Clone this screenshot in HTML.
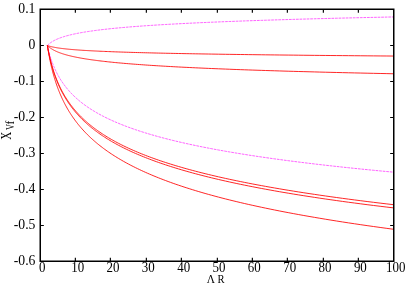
<!DOCTYPE html>
<html><head><meta charset="utf-8"><style>html,body{margin:0;padding:0;background:#fff;}svg{display:block;will-change:transform;}</style></head><body>
<svg width="407" height="285" viewBox="0 0 407 285">
<rect width="407" height="285" fill="#fff"/>
<polyline points="47.37,45.44 47.51,45.30 47.65,45.16 47.80,45.02 47.94,44.87 48.09,44.73 48.25,44.59 48.41,44.45 48.57,44.30 48.73,44.16 48.89,44.02 49.06,43.88 49.24,43.73 49.41,43.59 49.59,43.45 49.78,43.31 49.97,43.16 50.16,43.02 50.35,42.88 50.55,42.74 50.75,42.59 50.96,42.45 51.17,42.31 51.38,42.17 51.60,42.02 51.83,41.88 52.05,41.74 52.29,41.59 52.52,41.45 52.76,41.31 53.01,41.17 53.26,41.02 53.52,40.88 53.78,40.74 54.04,40.60 54.32,40.45 54.59,40.31 54.87,40.17 55.16,40.03 55.46,39.88 55.76,39.74 56.06,39.60 56.37,39.46 56.69,39.31 57.01,39.17 57.34,39.03 57.68,38.89 58.02,38.74 58.37,38.60 58.73,38.46 59.09,38.32 59.47,38.17 59.84,38.03 60.23,37.89 60.62,37.75 61.03,37.60 61.44,37.46 61.85,37.32 62.28,37.18 62.71,37.03 63.16,36.89 63.61,36.75 64.07,36.61 64.54,36.46 65.02,36.32 65.50,36.18 66.00,36.04 66.51,35.89 67.03,35.75 67.55,35.61 68.09,35.47 68.64,35.32 69.20,35.18 69.77,35.04 70.35,34.90 70.95,34.75 71.55,34.61 72.17,34.47 72.80,34.33 73.44,34.18 74.10,34.04 74.77,33.90 75.45,33.76 76.14,33.61 76.85,33.47 77.57,33.33 78.31,33.19 79.06,33.04 79.82,32.90 80.60,32.76 81.40,32.62 82.21,32.47 83.04,32.33 83.88,32.19 84.74,32.05 85.62,31.90 86.52,31.76 87.43,31.62 88.36,31.48 89.31,31.33 90.28,31.19 91.27,31.05 92.27,30.91 93.30,30.76 94.35,30.62 95.41,30.48 96.50,30.34 97.61,30.19 98.74,30.05 99.90,29.91 101.08,29.77 102.28,29.62 103.50,29.48 104.75,29.34 106.02,29.20 107.32,29.05 108.64,28.91 109.99,28.77 111.37,28.63 112.77,28.48 114.21,28.34 115.67,28.20 117.15,28.06 118.67,27.91 120.22,27.77 121.80,27.63 123.41,27.49 125.05,27.34 126.72,27.20 128.43,27.06 130.17,26.92 131.95,26.77 133.76,26.63 135.60,26.49 137.49,26.35 139.41,26.20 141.36,26.06 143.36,25.92 145.40,25.78 147.47,25.63 149.59,25.49 151.75,25.35 153.95,25.21 156.19,25.06 158.48,24.92 160.82,24.78 163.20,24.64 165.63,24.49 168.10,24.35 170.63,24.21 173.20,24.07 175.82,23.92 178.50,23.78 181.23,23.64 184.02,23.50 186.85,23.35 189.75,23.21 192.70,23.07 195.71,22.93 198.78,22.78 201.91,22.64 205.10,22.50 208.36,22.36 211.68,22.21 215.06,22.07 218.52,21.93 222.04,21.79 225.63,21.64 229.29,21.50 233.02,21.36 236.83,21.22 240.71,21.07 244.67,20.93 248.70,20.79 252.82,20.65 257.02,20.50 261.30,20.36 265.66,20.22 270.12,20.08 274.66,19.93 279.28,19.79 284.00,19.65 288.82,19.51 293.73,19.36 298.73,19.22 303.84,19.08 309.04,18.94 314.35,18.79 319.77,18.65 325.29,18.51 330.92,18.37 336.66,18.22 342.51,18.08 348.48,17.94 354.57,17.80 360.77,17.65 367.10,17.51 373.56,17.37 380.14,17.23 386.85,17.08 393.70,16.94" fill="none" stroke="#ff00ff" stroke-width="0.62" stroke-dasharray="2.7,0.85"/>
<polyline points="47.37,45.44 47.51,45.50 47.65,45.55 47.80,45.60 47.94,45.65 48.09,45.71 48.25,45.76 48.41,45.81 48.57,45.87 48.73,45.92 48.89,45.97 49.06,46.03 49.24,46.08 49.41,46.13 49.59,46.19 49.78,46.24 49.97,46.29 50.16,46.34 50.35,46.40 50.55,46.45 50.75,46.50 50.96,46.56 51.17,46.61 51.38,46.66 51.60,46.72 51.83,46.77 52.05,46.82 52.29,46.87 52.52,46.93 52.76,46.98 53.01,47.03 53.26,47.09 53.52,47.14 53.78,47.19 54.04,47.25 54.32,47.30 54.59,47.35 54.87,47.40 55.16,47.46 55.46,47.51 55.76,47.56 56.06,47.62 56.37,47.67 56.69,47.72 57.01,47.78 57.34,47.83 57.68,47.88 58.02,47.93 58.37,47.99 58.73,48.04 59.09,48.09 59.47,48.15 59.84,48.20 60.23,48.25 60.62,48.31 61.03,48.36 61.44,48.41 61.85,48.46 62.28,48.52 62.71,48.57 63.16,48.62 63.61,48.68 64.07,48.73 64.54,48.78 65.02,48.84 65.50,48.89 66.00,48.94 66.51,48.99 67.03,49.05 67.55,49.10 68.09,49.15 68.64,49.21 69.20,49.26 69.77,49.31 70.35,49.37 70.95,49.42 71.55,49.47 72.17,49.53 72.80,49.58 73.44,49.63 74.10,49.68 74.77,49.74 75.45,49.79 76.14,49.84 76.85,49.90 77.57,49.95 78.31,50.00 79.06,50.06 79.82,50.11 80.60,50.16 81.40,50.21 82.21,50.27 83.04,50.32 83.88,50.37 84.74,50.43 85.62,50.48 86.52,50.53 87.43,50.59 88.36,50.64 89.31,50.69 90.28,50.74 91.27,50.80 92.27,50.85 93.30,50.90 94.35,50.96 95.41,51.01 96.50,51.06 97.61,51.12 98.74,51.17 99.90,51.22 101.08,51.27 102.28,51.33 103.50,51.38 104.75,51.43 106.02,51.49 107.32,51.54 108.64,51.59 109.99,51.65 111.37,51.70 112.77,51.75 114.21,51.80 115.67,51.86 117.15,51.91 118.67,51.96 120.22,52.02 121.80,52.07 123.41,52.12 125.05,52.18 126.72,52.23 128.43,52.28 130.17,52.33 131.95,52.39 133.76,52.44 135.60,52.49 137.49,52.55 139.41,52.60 141.36,52.65 143.36,52.71 145.40,52.76 147.47,52.81 149.59,52.87 151.75,52.92 153.95,52.97 156.19,53.02 158.48,53.08 160.82,53.13 163.20,53.18 165.63,53.24 168.10,53.29 170.63,53.34 173.20,53.40 175.82,53.45 178.50,53.50 181.23,53.55 184.02,53.61 186.85,53.66 189.75,53.71 192.70,53.77 195.71,53.82 198.78,53.87 201.91,53.93 205.10,53.98 208.36,54.03 211.68,54.08 215.06,54.14 218.52,54.19 222.04,54.24 225.63,54.30 229.29,54.35 233.02,54.40 236.83,54.46 240.71,54.51 244.67,54.56 248.70,54.61 252.82,54.67 257.02,54.72 261.30,54.77 265.66,54.83 270.12,54.88 274.66,54.93 279.28,54.99 284.00,55.04 288.82,55.09 293.73,55.14 298.73,55.20 303.84,55.25 309.04,55.30 314.35,55.36 319.77,55.41 325.29,55.46 330.92,55.52 336.66,55.57 342.51,55.62 348.48,55.67 354.57,55.73 360.77,55.78 367.10,55.83 373.56,55.89 380.14,55.94 386.85,55.99 393.70,56.05" fill="none" stroke="#ff0000" stroke-width="0.85"/>
<polyline points="47.37,45.44 47.51,45.58 47.65,45.73 47.80,45.87 47.94,46.01 48.09,46.15 48.25,46.29 48.41,46.43 48.57,46.58 48.73,46.72 48.89,46.86 49.06,47.00 49.24,47.14 49.41,47.28 49.59,47.43 49.78,47.57 49.97,47.71 50.16,47.85 50.35,47.99 50.55,48.13 50.75,48.28 50.96,48.42 51.17,48.56 51.38,48.70 51.60,48.84 51.83,48.98 52.05,49.12 52.29,49.27 52.52,49.41 52.76,49.55 53.01,49.69 53.26,49.83 53.52,49.97 53.78,50.12 54.04,50.26 54.32,50.40 54.59,50.54 54.87,50.68 55.16,50.82 55.46,50.97 55.76,51.11 56.06,51.25 56.37,51.39 56.69,51.53 57.01,51.67 57.34,51.82 57.68,51.96 58.02,52.10 58.37,52.24 58.73,52.38 59.09,52.52 59.47,52.67 59.84,52.81 60.23,52.95 60.62,53.09 61.03,53.23 61.44,53.37 61.85,53.51 62.28,53.66 62.71,53.80 63.16,53.94 63.61,54.08 64.07,54.22 64.54,54.36 65.02,54.51 65.50,54.65 66.00,54.79 66.51,54.93 67.03,55.07 67.55,55.21 68.09,55.36 68.64,55.50 69.20,55.64 69.77,55.78 70.35,55.92 70.95,56.06 71.55,56.21 72.17,56.35 72.80,56.49 73.44,56.63 74.10,56.77 74.77,56.91 75.45,57.06 76.14,57.20 76.85,57.34 77.57,57.48 78.31,57.62 79.06,57.76 79.82,57.90 80.60,58.05 81.40,58.19 82.21,58.33 83.04,58.47 83.88,58.61 84.74,58.75 85.62,58.90 86.52,59.04 87.43,59.18 88.36,59.32 89.31,59.46 90.28,59.60 91.27,59.75 92.27,59.89 93.30,60.03 94.35,60.17 95.41,60.31 96.50,60.45 97.61,60.60 98.74,60.74 99.90,60.88 101.08,61.02 102.28,61.16 103.50,61.30 104.75,61.45 106.02,61.59 107.32,61.73 108.64,61.87 109.99,62.01 111.37,62.15 112.77,62.30 114.21,62.44 115.67,62.58 117.15,62.72 118.67,62.86 120.22,63.00 121.80,63.14 123.41,63.29 125.05,63.43 126.72,63.57 128.43,63.71 130.17,63.85 131.95,63.99 133.76,64.14 135.60,64.28 137.49,64.42 139.41,64.56 141.36,64.70 143.36,64.84 145.40,64.99 147.47,65.13 149.59,65.27 151.75,65.41 153.95,65.55 156.19,65.69 158.48,65.84 160.82,65.98 163.20,66.12 165.63,66.26 168.10,66.40 170.63,66.54 173.20,66.69 175.82,66.83 178.50,66.97 181.23,67.11 184.02,67.25 186.85,67.39 189.75,67.53 192.70,67.68 195.71,67.82 198.78,67.96 201.91,68.10 205.10,68.24 208.36,68.38 211.68,68.53 215.06,68.67 218.52,68.81 222.04,68.95 225.63,69.09 229.29,69.23 233.02,69.38 236.83,69.52 240.71,69.66 244.67,69.80 248.70,69.94 252.82,70.08 257.02,70.23 261.30,70.37 265.66,70.51 270.12,70.65 274.66,70.79 279.28,70.93 284.00,71.08 288.82,71.22 293.73,71.36 298.73,71.50 303.84,71.64 309.04,71.78 314.35,71.92 319.77,72.07 325.29,72.21 330.92,72.35 336.66,72.49 342.51,72.63 348.48,72.77 354.57,72.92 360.77,73.06 367.10,73.20 373.56,73.34 380.14,73.48 386.85,73.62 393.70,73.77" fill="none" stroke="#ff0000" stroke-width="0.85"/>
<polyline points="47.37,45.44 47.51,46.08 47.65,46.71 47.80,47.34 47.94,47.98 48.09,48.61 48.25,49.24 48.41,49.88 48.57,50.51 48.73,51.15 48.89,51.78 49.06,52.41 49.24,53.05 49.41,53.68 49.59,54.31 49.78,54.95 49.97,55.58 50.16,56.22 50.35,56.85 50.55,57.48 50.75,58.12 50.96,58.75 51.17,59.38 51.38,60.02 51.60,60.65 51.83,61.28 52.05,61.92 52.29,62.55 52.52,63.19 52.76,63.82 53.01,64.45 53.26,65.09 53.52,65.72 53.78,66.35 54.04,66.99 54.32,67.62 54.59,68.26 54.87,68.89 55.16,69.52 55.46,70.16 55.76,70.79 56.06,71.42 56.37,72.06 56.69,72.69 57.01,73.32 57.34,73.96 57.68,74.59 58.02,75.23 58.37,75.86 58.73,76.49 59.09,77.13 59.47,77.76 59.84,78.39 60.23,79.03 60.62,79.66 61.03,80.29 61.44,80.93 61.85,81.56 62.28,82.20 62.71,82.83 63.16,83.46 63.61,84.10 64.07,84.73 64.54,85.36 65.02,86.00 65.50,86.63 66.00,87.27 66.51,87.90 67.03,88.53 67.55,89.17 68.09,89.80 68.64,90.43 69.20,91.07 69.77,91.70 70.35,92.33 70.95,92.97 71.55,93.60 72.17,94.24 72.80,94.87 73.44,95.50 74.10,96.14 74.77,96.77 75.45,97.40 76.14,98.04 76.85,98.67 77.57,99.31 78.31,99.94 79.06,100.57 79.82,101.21 80.60,101.84 81.40,102.47 82.21,103.11 83.04,103.74 83.88,104.37 84.74,105.01 85.62,105.64 86.52,106.28 87.43,106.91 88.36,107.54 89.31,108.18 90.28,108.81 91.27,109.44 92.27,110.08 93.30,110.71 94.35,111.34 95.41,111.98 96.50,112.61 97.61,113.25 98.74,113.88 99.90,114.51 101.08,115.15 102.28,115.78 103.50,116.41 104.75,117.05 106.02,117.68 107.32,118.32 108.64,118.95 109.99,119.58 111.37,120.22 112.77,120.85 114.21,121.48 115.67,122.12 117.15,122.75 118.67,123.38 120.22,124.02 121.80,124.65 123.41,125.29 125.05,125.92 126.72,126.55 128.43,127.19 130.17,127.82 131.95,128.45 133.76,129.09 135.60,129.72 137.49,130.35 139.41,130.99 141.36,131.62 143.36,132.26 145.40,132.89 147.47,133.52 149.59,134.16 151.75,134.79 153.95,135.42 156.19,136.06 158.48,136.69 160.82,137.33 163.20,137.96 165.63,138.59 168.10,139.23 170.63,139.86 173.20,140.49 175.82,141.13 178.50,141.76 181.23,142.39 184.02,143.03 186.85,143.66 189.75,144.30 192.70,144.93 195.71,145.56 198.78,146.20 201.91,146.83 205.10,147.46 208.36,148.10 211.68,148.73 215.06,149.37 218.52,150.00 222.04,150.63 225.63,151.27 229.29,151.90 233.02,152.53 236.83,153.17 240.71,153.80 244.67,154.43 248.70,155.07 252.82,155.70 257.02,156.34 261.30,156.97 265.66,157.60 270.12,158.24 274.66,158.87 279.28,159.50 284.00,160.14 288.82,160.77 293.73,161.40 298.73,162.04 303.84,162.67 309.04,163.31 314.35,163.94 319.77,164.57 325.29,165.21 330.92,165.84 336.66,166.47 342.51,167.11 348.48,167.74 354.57,168.38 360.77,169.01 367.10,169.64 373.56,170.28 380.14,170.91 386.85,171.54 393.70,172.18" fill="none" stroke="#ff00ff" stroke-width="0.62" stroke-dasharray="2.7,0.85"/>
<polyline points="47.37,45.44 47.51,46.24 47.65,47.04 47.80,47.83 47.94,48.63 48.09,49.42 48.25,50.22 48.41,51.02 48.57,51.81 48.73,52.61 48.89,53.41 49.06,54.20 49.24,55.00 49.41,55.79 49.59,56.59 49.78,57.39 49.97,58.18 50.16,58.98 50.35,59.78 50.55,60.57 50.75,61.37 50.96,62.17 51.17,62.96 51.38,63.76 51.60,64.55 51.83,65.35 52.05,66.15 52.29,66.94 52.52,67.74 52.76,68.54 53.01,69.33 53.26,70.13 53.52,70.92 53.78,71.72 54.04,72.52 54.32,73.31 54.59,74.11 54.87,74.91 55.16,75.70 55.46,76.50 55.76,77.30 56.06,78.09 56.37,78.89 56.69,79.68 57.01,80.48 57.34,81.28 57.68,82.07 58.02,82.87 58.37,83.67 58.73,84.46 59.09,85.26 59.47,86.05 59.84,86.85 60.23,87.65 60.62,88.44 61.03,89.24 61.44,90.04 61.85,90.83 62.28,91.63 62.71,92.43 63.16,93.22 63.61,94.02 64.07,94.81 64.54,95.61 65.02,96.41 65.50,97.20 66.00,98.00 66.51,98.80 67.03,99.59 67.55,100.39 68.09,101.18 68.64,101.98 69.20,102.78 69.77,103.57 70.35,104.37 70.95,105.17 71.55,105.96 72.17,106.76 72.80,107.56 73.44,108.35 74.10,109.15 74.77,109.94 75.45,110.74 76.14,111.54 76.85,112.33 77.57,113.13 78.31,113.93 79.06,114.72 79.82,115.52 80.60,116.31 81.40,117.11 82.21,117.91 83.04,118.70 83.88,119.50 84.74,120.30 85.62,121.09 86.52,121.89 87.43,122.69 88.36,123.48 89.31,124.28 90.28,125.07 91.27,125.87 92.27,126.67 93.30,127.46 94.35,128.26 95.41,129.06 96.50,129.85 97.61,130.65 98.74,131.44 99.90,132.24 101.08,133.04 102.28,133.83 103.50,134.63 104.75,135.43 106.02,136.22 107.32,137.02 108.64,137.82 109.99,138.61 111.37,139.41 112.77,140.20 114.21,141.00 115.67,141.80 117.15,142.59 118.67,143.39 120.22,144.19 121.80,144.98 123.41,145.78 125.05,146.57 126.72,147.37 128.43,148.17 130.17,148.96 131.95,149.76 133.76,150.56 135.60,151.35 137.49,152.15 139.41,152.95 141.36,153.74 143.36,154.54 145.40,155.33 147.47,156.13 149.59,156.93 151.75,157.72 153.95,158.52 156.19,159.32 158.48,160.11 160.82,160.91 163.20,161.70 165.63,162.50 168.10,163.30 170.63,164.09 173.20,164.89 175.82,165.69 178.50,166.48 181.23,167.28 184.02,168.08 186.85,168.87 189.75,169.67 192.70,170.46 195.71,171.26 198.78,172.06 201.91,172.85 205.10,173.65 208.36,174.45 211.68,175.24 215.06,176.04 218.52,176.83 222.04,177.63 225.63,178.43 229.29,179.22 233.02,180.02 236.83,180.82 240.71,181.61 244.67,182.41 248.70,183.21 252.82,184.00 257.02,184.80 261.30,185.59 265.66,186.39 270.12,187.19 274.66,187.98 279.28,188.78 284.00,189.58 288.82,190.37 293.73,191.17 298.73,191.96 303.84,192.76 309.04,193.56 314.35,194.35 319.77,195.15 325.29,195.95 330.92,196.74 336.66,197.54 342.51,198.34 348.48,199.13 354.57,199.93 360.77,200.72 367.10,201.52 373.56,202.32 380.14,203.11 386.85,203.91 393.70,204.71" fill="none" stroke="#ff0000" stroke-width="0.85"/>
<polyline points="47.37,45.44 47.51,46.26 47.65,47.07 47.80,47.88 47.94,48.69 48.09,49.50 48.25,50.32 48.41,51.13 48.57,51.94 48.73,52.75 48.89,53.57 49.06,54.38 49.24,55.19 49.41,56.00 49.59,56.82 49.78,57.63 49.97,58.44 50.16,59.25 50.35,60.06 50.55,60.88 50.75,61.69 50.96,62.50 51.17,63.31 51.38,64.13 51.60,64.94 51.83,65.75 52.05,66.56 52.29,67.38 52.52,68.19 52.76,69.00 53.01,69.81 53.26,70.62 53.52,71.44 53.78,72.25 54.04,73.06 54.32,73.87 54.59,74.69 54.87,75.50 55.16,76.31 55.46,77.12 55.76,77.94 56.06,78.75 56.37,79.56 56.69,80.37 57.01,81.18 57.34,82.00 57.68,82.81 58.02,83.62 58.37,84.43 58.73,85.25 59.09,86.06 59.47,86.87 59.84,87.68 60.23,88.50 60.62,89.31 61.03,90.12 61.44,90.93 61.85,91.74 62.28,92.56 62.71,93.37 63.16,94.18 63.61,94.99 64.07,95.81 64.54,96.62 65.02,97.43 65.50,98.24 66.00,99.06 66.51,99.87 67.03,100.68 67.55,101.49 68.09,102.30 68.64,103.12 69.20,103.93 69.77,104.74 70.35,105.55 70.95,106.37 71.55,107.18 72.17,107.99 72.80,108.80 73.44,109.62 74.10,110.43 74.77,111.24 75.45,112.05 76.14,112.86 76.85,113.68 77.57,114.49 78.31,115.30 79.06,116.11 79.82,116.93 80.60,117.74 81.40,118.55 82.21,119.36 83.04,120.18 83.88,120.99 84.74,121.80 85.62,122.61 86.52,123.42 87.43,124.24 88.36,125.05 89.31,125.86 90.28,126.67 91.27,127.49 92.27,128.30 93.30,129.11 94.35,129.92 95.41,130.74 96.50,131.55 97.61,132.36 98.74,133.17 99.90,133.98 101.08,134.80 102.28,135.61 103.50,136.42 104.75,137.23 106.02,138.05 107.32,138.86 108.64,139.67 109.99,140.48 111.37,141.30 112.77,142.11 114.21,142.92 115.67,143.73 117.15,144.54 118.67,145.36 120.22,146.17 121.80,146.98 123.41,147.79 125.05,148.61 126.72,149.42 128.43,150.23 130.17,151.04 131.95,151.86 133.76,152.67 135.60,153.48 137.49,154.29 139.41,155.10 141.36,155.92 143.36,156.73 145.40,157.54 147.47,158.35 149.59,159.17 151.75,159.98 153.95,160.79 156.19,161.60 158.48,162.42 160.82,163.23 163.20,164.04 165.63,164.85 168.10,165.66 170.63,166.48 173.20,167.29 175.82,168.10 178.50,168.91 181.23,169.73 184.02,170.54 186.85,171.35 189.75,172.16 192.70,172.98 195.71,173.79 198.78,174.60 201.91,175.41 205.10,176.22 208.36,177.04 211.68,177.85 215.06,178.66 218.52,179.47 222.04,180.29 225.63,181.10 229.29,181.91 233.02,182.72 236.83,183.54 240.71,184.35 244.67,185.16 248.70,185.97 252.82,186.78 257.02,187.60 261.30,188.41 265.66,189.22 270.12,190.03 274.66,190.85 279.28,191.66 284.00,192.47 288.82,193.28 293.73,194.10 298.73,194.91 303.84,195.72 309.04,196.53 314.35,197.34 319.77,198.16 325.29,198.97 330.92,199.78 336.66,200.59 342.51,201.41 348.48,202.22 354.57,203.03 360.77,203.84 367.10,204.66 373.56,205.47 380.14,206.28 386.85,207.09 393.70,207.90" fill="none" stroke="#ff0000" stroke-width="0.85"/>
<polyline points="47.37,45.44 47.51,46.36 47.65,47.28 47.80,48.20 47.94,49.12 48.09,50.04 48.25,50.96 48.41,51.88 48.57,52.80 48.73,53.72 48.89,54.64 49.06,55.55 49.24,56.47 49.41,57.39 49.59,58.31 49.78,59.23 49.97,60.15 50.16,61.07 50.35,61.99 50.55,62.91 50.75,63.83 50.96,64.75 51.17,65.67 51.38,66.59 51.60,67.50 51.83,68.42 52.05,69.34 52.29,70.26 52.52,71.18 52.76,72.10 53.01,73.02 53.26,73.94 53.52,74.86 53.78,75.78 54.04,76.70 54.32,77.62 54.59,78.54 54.87,79.45 55.16,80.37 55.46,81.29 55.76,82.21 56.06,83.13 56.37,84.05 56.69,84.97 57.01,85.89 57.34,86.81 57.68,87.73 58.02,88.65 58.37,89.57 58.73,90.49 59.09,91.40 59.47,92.32 59.84,93.24 60.23,94.16 60.62,95.08 61.03,96.00 61.44,96.92 61.85,97.84 62.28,98.76 62.71,99.68 63.16,100.60 63.61,101.52 64.07,102.44 64.54,103.35 65.02,104.27 65.50,105.19 66.00,106.11 66.51,107.03 67.03,107.95 67.55,108.87 68.09,109.79 68.64,110.71 69.20,111.63 69.77,112.55 70.35,113.47 70.95,114.39 71.55,115.30 72.17,116.22 72.80,117.14 73.44,118.06 74.10,118.98 74.77,119.90 75.45,120.82 76.14,121.74 76.85,122.66 77.57,123.58 78.31,124.50 79.06,125.42 79.82,126.34 80.60,127.26 81.40,128.17 82.21,129.09 83.04,130.01 83.88,130.93 84.74,131.85 85.62,132.77 86.52,133.69 87.43,134.61 88.36,135.53 89.31,136.45 90.28,137.37 91.27,138.29 92.27,139.21 93.30,140.12 94.35,141.04 95.41,141.96 96.50,142.88 97.61,143.80 98.74,144.72 99.90,145.64 101.08,146.56 102.28,147.48 103.50,148.40 104.75,149.32 106.02,150.24 107.32,151.16 108.64,152.07 109.99,152.99 111.37,153.91 112.77,154.83 114.21,155.75 115.67,156.67 117.15,157.59 118.67,158.51 120.22,159.43 121.80,160.35 123.41,161.27 125.05,162.19 126.72,163.11 128.43,164.02 130.17,164.94 131.95,165.86 133.76,166.78 135.60,167.70 137.49,168.62 139.41,169.54 141.36,170.46 143.36,171.38 145.40,172.30 147.47,173.22 149.59,174.14 151.75,175.06 153.95,175.97 156.19,176.89 158.48,177.81 160.82,178.73 163.20,179.65 165.63,180.57 168.10,181.49 170.63,182.41 173.20,183.33 175.82,184.25 178.50,185.17 181.23,186.09 184.02,187.01 186.85,187.92 189.75,188.84 192.70,189.76 195.71,190.68 198.78,191.60 201.91,192.52 205.10,193.44 208.36,194.36 211.68,195.28 215.06,196.20 218.52,197.12 222.04,198.04 225.63,198.96 229.29,199.87 233.02,200.79 236.83,201.71 240.71,202.63 244.67,203.55 248.70,204.47 252.82,205.39 257.02,206.31 261.30,207.23 265.66,208.15 270.12,209.07 274.66,209.99 279.28,210.91 284.00,211.83 288.82,212.74 293.73,213.66 298.73,214.58 303.84,215.50 309.04,216.42 314.35,217.34 319.77,218.26 325.29,219.18 330.92,220.10 336.66,221.02 342.51,221.94 348.48,222.86 354.57,223.78 360.77,224.69 367.10,225.61 373.56,226.53 380.14,227.45 386.85,228.37 393.70,229.29" fill="none" stroke="#ff0000" stroke-width="0.85"/>
<rect x="40.25" y="9.25" width="353.5" height="252.0" fill="none" stroke="#000" stroke-width="1.5"/>
<path d="M75.35,261.25v-3.4M75.35,9.25v3.4M110.35,261.25v-3.4M110.35,9.25v3.4M146.35,261.25v-3.4M146.35,9.25v3.4M181.35,261.25v-3.4M181.35,9.25v3.4M217.35,261.25v-3.4M217.35,9.25v3.4M252.35,261.25v-3.4M252.35,9.25v3.4M287.35,261.25v-3.4M287.35,9.25v3.4M323.35,261.25v-3.4M323.35,9.25v3.4M358.35,261.25v-3.4M358.35,9.25v3.4M40.25,9.5h3.6M393.75,9.5h-3.6M40.25,45.5h3.6M393.75,45.5h-3.6M40.25,81.5h3.6M393.75,81.5h-3.6M40.25,117.5h3.6M393.75,117.5h-3.6M40.25,153.5h3.6M393.75,153.5h-3.6M40.25,189.5h3.6M393.75,189.5h-3.6M40.25,225.5h3.6M393.75,225.5h-3.6M40.25,261.5h3.6M393.75,261.5h-3.6" stroke="#000" stroke-width="1.15" fill="none"/>
<g font-family="'Liberation Serif', serif" font-size="13.7" fill="#000">
<text transform="translate(42.30,271.90) scale(0.945,1)" text-anchor="middle">0</text>
<text transform="translate(77.64,271.90) scale(0.945,1)" text-anchor="middle">10</text>
<text transform="translate(112.98,271.90) scale(0.945,1)" text-anchor="middle">20</text>
<text transform="translate(148.32,271.90) scale(0.945,1)" text-anchor="middle">30</text>
<text transform="translate(183.66,271.90) scale(0.945,1)" text-anchor="middle">40</text>
<text transform="translate(219.00,271.90) scale(0.945,1)" text-anchor="middle">50</text>
<text transform="translate(254.34,271.90) scale(0.945,1)" text-anchor="middle">60</text>
<text transform="translate(289.68,271.90) scale(0.945,1)" text-anchor="middle">70</text>
<text transform="translate(325.02,271.90) scale(0.945,1)" text-anchor="middle">80</text>
<text transform="translate(360.36,271.90) scale(0.945,1)" text-anchor="middle">90</text>
<text transform="translate(395.70,271.90) scale(0.945,1)" text-anchor="middle">100</text>
<text transform="translate(35.40,12.55) scale(1.0,1)" text-anchor="end">0.1</text>
<text transform="translate(35.40,48.55) scale(1.0,1)" text-anchor="end">0</text>
<text transform="translate(35.40,84.55) scale(1.0,1)" text-anchor="end">-0.1</text>
<text transform="translate(35.40,120.55) scale(1.0,1)" text-anchor="end">-0.2</text>
<text transform="translate(35.40,156.55) scale(1.0,1)" text-anchor="end">-0.3</text>
<text transform="translate(35.40,192.55) scale(1.0,1)" text-anchor="end">-0.4</text>
<text transform="translate(35.40,228.55) scale(1.0,1)" text-anchor="end">-0.5</text>
<text transform="translate(35.40,264.55) scale(1.0,1)" text-anchor="end">-0.6</text>
<text transform="translate(206.7,282.8) scale(0.93,1)" font-size="12.2">Λ</text>
<text transform="translate(217.4,282.8) scale(0.87,1)" font-size="12.2">R</text>
<text transform="translate(11.0,139.8) rotate(-90) scale(0.8,1)" font-size="13.8">X</text>
<text transform="translate(13.75,130.1) rotate(-90) scale(0.72,1)" font-size="11.6">V</text>
<text transform="translate(14.0,124.4) rotate(-90) scale(1,1)" font-size="11.6">f</text>
</g></svg>
</body></html>
